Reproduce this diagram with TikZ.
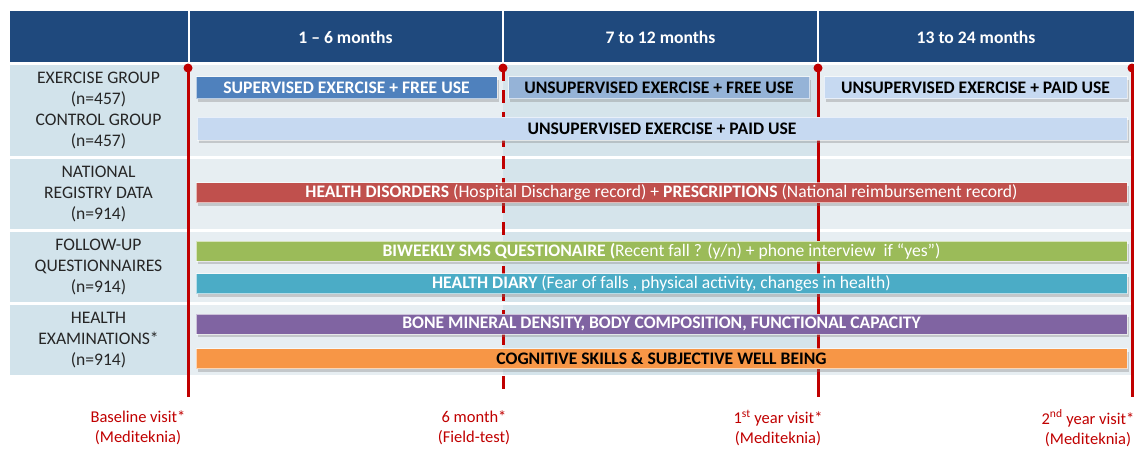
\documentclass[tikz,border=0pt]{standalone}
\usepackage{fontspec}
\setmainfont{Carlito}
\usetikzlibrary{shadows, positioning}

\definecolor{headblue}{RGB}{31,73,125}
\definecolor{cellblue}{RGB}{210,227,235}
\definecolor{lanelight}{RGB}{231,238,242}
\definecolor{lanedark}{RGB}{213,228,235}
\definecolor{visitred}{RGB}{192,0,0}
\definecolor{supblue}{RGB}{79,129,189}
\definecolor{unsupblue}{RGB}{149,179,215}
\definecolor{paidblue}{RGB}{198,217,241}
\definecolor{regred}{RGB}{192,80,77}
\definecolor{smsgreen}{RGB}{155,187,89}
\definecolor{diaryteal}{RGB}{75,172,198}
\definecolor{bonepurple}{RGB}{128,100,162}
\definecolor{cogorange}{RGB}{247,150,70}

\begin{document}
\begin{tikzpicture}[
        x=1pt, y=-1pt,
        cell/.style={rectangle, fill=cellblue, minimum width=177, inner sep=0pt, align=center, text=black!85, font=\fontsize{17.6}{21.3}\selectfont},
        period/.style={text=white, font=\bfseries\fontsize{17.6}{20}\selectfont},
        bar/.style={rectangle, minimum height=20, inner sep=0pt, draw=white, draw opacity=0.6, line width=0.8pt, font=\fontsize{17.6}{20}\selectfont, drop shadow={shadow xshift=1.5pt, shadow yshift=-3pt, opacity=0.35}},
        visit/.style={draw=visitred, line width=3pt},
        dot/.style={circle, fill=visitred, inner sep=0pt, minimum size=9},
        visitlabel/.style={text=visitred, align=center, font=\fontsize{16.5}{20}\selectfont}
    ]
        \clip (0,0) rectangle (1134,448);

        % header band
        \fill[headblue] (10,11) rectangle (1134,62);
        \draw[white, line width=2pt] (188.5,11) -- (188.5,62) (503,11) -- (503,62) (818,11) -- (818,62);
        \node (m1) [period] at (345.5,37) {1 -- 6 months};
        \node (m2) [period] at (660.5,37) {7 to 12 months};
        \node (m3) [period] at (976,37) {13 to 24 months};

        % lanes
        \foreach \top/\bot in {65/156, 159/229, 232/302, 305/375} {
            \fill[lanelight] (189,\top) rectangle (1134,\bot);
            \fill[lanedark] (503,\top) rectangle (818,\bot);
        }

        % group cells
        \node (groups) [cell, minimum height=91] at (98.5,110.5) {EXERCISE GROUP\\(n=457)\\CONTROL GROUP\\(n=457)};
        \node (registry) [cell, minimum height=70] at (98.5,194) {NATIONAL\\REGISTRY DATA\\(n=914)};
        \node (followup) [cell, minimum height=70] at (98.5,267) {FOLLOW-UP\\QUESTIONNAIRES\\(n=914)};
        \node (exams) [cell, minimum height=70] at (98.5,340) {HEALTH\\EXAMINATIONS*\\(n=914)};

        % visits
        \coordinate (t0) at (188,68);
        \coordinate (t6) at (503,68);
        \coordinate (t12) at (818,68);
        \coordinate (t24) at (1132,68);
        \coordinate (t0end) at (188,397);
        \coordinate (t6end) at (503,395);
        \coordinate (t12end) at (818,397);
        \coordinate (t24end) at (1132,397);
        \draw[visit] (t0) -- (t0end);
        \draw[visit, dash pattern=on 13pt off 9pt] (t6) -- (t6end);
        \draw[visit] (t12) -- (t12end);
        \draw[visit] (t24) -- (t24end);
        \node (t0dot) [dot] at (t0) {};
        \node (t6dot) [dot] at (t6) {};
        \node (t12dot) [dot] at (t12) {};
        \node (t24dot) [dot] at (t24) {};

        % bars
        \node (supv) [bar, fill=supblue, text=white, minimum width=301, minimum height=22] at (346.5,87.5) {\bfseries SUPERVISED EXERCISE + FREE USE};
        \node (unsupfree) [bar, fill=unsupblue, minimum width=301, minimum height=22] at (659,87.5) {\bfseries UNSUPERVISED EXERCISE + FREE USE};
        \node (unsuppaid) [bar, fill=paidblue, minimum width=303, minimum height=22] at (975.5,87.5) {\bfseries UNSUPERVISED EXERCISE + PAID USE};
        \node (control) [bar, fill=paidblue, minimum width=930, minimum height=23] at (662,128.5) {\bfseries UNSUPERVISED EXERCISE + PAID USE};
        \node (disorders) [bar, fill=regred, text=white, minimum width=931] at (661.5,192.5) {{\bfseries HEALTH DISORDERS} (Hospital Discharge record) + {\bfseries PRESCRIPTIONS} (National reimbursement record)};
        \node (sms) [bar, fill=smsgreen, text=white, minimum width=931] at (661.5,251) {{\bfseries BIWEEKLY SMS QUESTIONAIRE (}Recent fall ? (y/n) + phone interview\ \ if “yes”)};
        \node (diary) [bar, fill=diaryteal, text=white, minimum width=931] at (661.5,283.5) {{\bfseries HEALTH DIARY} (Fear of falls , physical activity, changes in health)};
        \node (bone) [bar, fill=bonepurple, text=white, minimum width=931] at (661.5,324) {\bfseries BONE MINERAL DENSITY, BODY COMPOSITION, FUNCTIONAL CAPACITY};
        \node (cognitive) [bar, fill=cogorange, minimum width=931] at (661.5,358.5) {\bfseries COGNITIVE SKILLS \& SUBJECTIVE WELL BEING};

        % visit labels
        \node (baseline) [visitlabel] at (138,428) {Baseline visit*\\(Mediteknia)};
        \node (sixmonth) [visitlabel] at (474,428) {6 month*\\(Field-test)};
        \node (firstyear) [visitlabel] at (778,428) {1\textsuperscript{st} year visit*\\(Mediteknia)};
        \node (secondyear) [visitlabel] at (1088,428) {2\textsuperscript{nd} year visit*\\(Mediteknia)};
    \end{tikzpicture}
\end{document}
